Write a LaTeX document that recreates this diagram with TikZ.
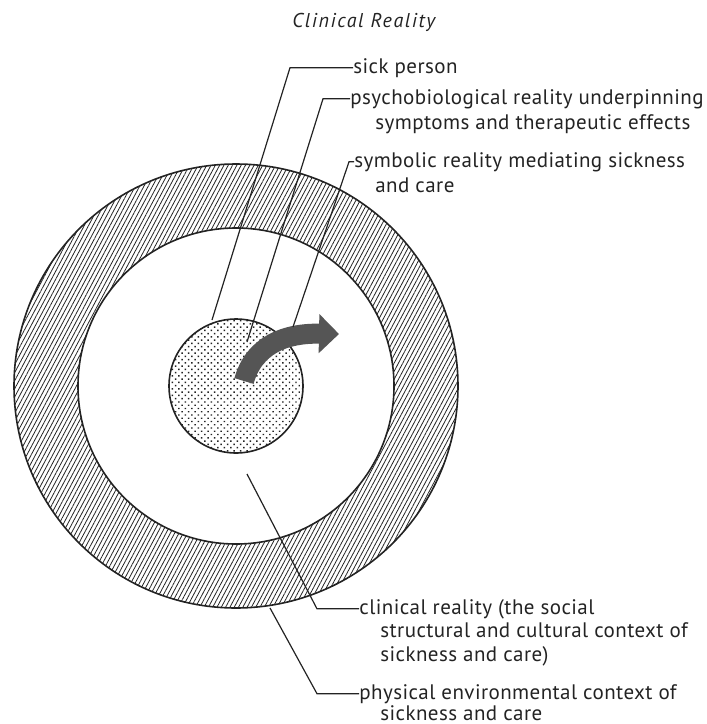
\documentclass[tikz,border=0pt]{standalone}
\usepackage{fontspec}
\setmainfont{PT Sans}
\usetikzlibrary{positioning, arrows.meta, patterns.meta}
\definecolor{InkGray}{RGB}{35,35,35}
\definecolor{ArrowGray}{RGB}{85,85,85}

\begin{document}
\begin{tikzpicture}[x=0.5pt, y=0.5pt,
    ring/.style={draw=InkGray, line width=0.8pt},
    leader/.style={draw=InkGray, line width=0.6pt},
    lbl/.style={font=\fontsize{10.5}{13}\selectfont\addfontfeatures{LetterSpace=2},
                inner sep=0pt, anchor=base west, text=InkGray},
    ttl/.style={font=\fontsize{10}{12}\selectfont\itshape\addfontfeatures{LetterSpace=8},
                inner sep=0pt, anchor=base west, text=InkGray}
  ]
  \useasboundingbox (0,0) rectangle (707,-724);

  % Rings
  \coordinate (C) at (236,-386);
  \draw[ring, pattern={Lines[angle=62, distance=1.9pt, line width=0.4pt]},
        pattern color=InkGray] (C) circle (222);
  \draw[ring, fill=white] (C) circle (158);
  \fill[white] (C) circle (67);
  \fill[pattern={Dots[angle=45, distance=2.3pt, radius=0.52pt]},
        pattern color=InkGray] (C) circle (67);
  \draw[ring] (C) circle (67);

  % Arrow
  \draw[ArrowGray, line width=10pt, -{Triangle[length=10pt, width=19pt]}]
    (244,-381) .. controls (254,-345) and (285,-333) .. (339,-334);

  % Labels
  \node[ttl] (title) at (292,-27) {Clinical Reality};
  \node[lbl] (sick) at (353,-73) {sick person};
  \node[lbl] (psy) at (350,-104) {psychobiological reality underpinning};
  \node[lbl] (psyb) at ([shift={(25,-25)}]psy.base west) {symptoms and therapeutic effects};
  \node[lbl] (sym) at (354,-167) {symbolic reality mediating sickness};
  \node[lbl] (symb) at ([shift={(21,-25)}]sym.base west) {and care};
  \node[lbl] (clin) at (359,-614) {clinical reality (the social};
  \node[lbl] (clinb) at ([shift={(21,-23)}]clin.base west) {structural and cultural context of};
  \node[lbl] (clinc) at ([shift={(0,-24)}]clinb.base west) {sickness and care)};
  \node[lbl] (phys) at (359,-699) {physical environmental context of};
  \node[lbl] (physb) at ([shift={(21,-21)}]phys.base west) {sickness and care};

  % Leader ends
  \coordinate (sickEnd) at (212,-320);
  \coordinate (psyEnd) at (247,-342);
  \coordinate (symEnd) at (293,-327);
  \coordinate (clinEnd) at (247,-474);
  \coordinate (physEnd) at (270,-608);

  % Leaders
  \draw[leader] (sick.west) -- ++(-63,0) -- (sickEnd);
  \draw[leader] (psy.west) -- ++(-27,0) -- (psyEnd);
  \draw[leader] (sym.west) -- ++(-5,0) -- (symEnd);
  \draw[leader] (clin.west) -- ++(-42,0) -- (clinEnd);
  \draw[leader] (phys.west) -- ++(-42,0) -- (physEnd);
\end{tikzpicture}
\end{document}
